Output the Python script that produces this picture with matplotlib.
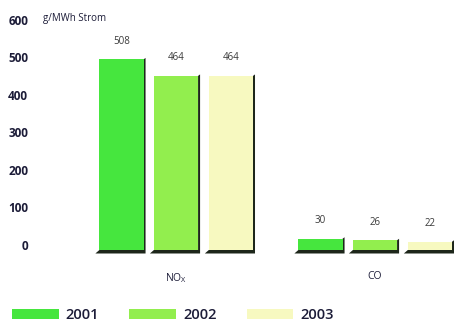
import matplotlib.pyplot as plt
import matplotlib.transforms as mtransforms
import numpy as np

# Emissionen je MWh Strom
stoffe = ["NO$_\\mathregular{X}$", "CO"]
jahre = ["2001", "2002", "2003"]
werte_2001 = [508, 30]
werte_2002 = [464, 26]
werte_2003 = [464, 22]
y_ticks = [0, 100, 200, 300, 400, 500, 600]

farben = ["#46e63e", "#92ee4e", "#f7f9c0"]
schatten = "#1d261a"
text_dunkel = "#1c1c38"

plt.rcParams["font.family"] = ["Open Sans", "DejaVu Sans"]

W, H = 454, 336
fig = plt.figure(figsize=(W / 100, H / 100), dpi=100)
ax = fig.add_axes([35 / W, 1 - 257.5 / H, (W - 35) / W, (257.5 - 16.25) / H])
ax.set_xlim(-0.7085, 1.397)
ax.set_ylim(-20, 623)

# Pixelgrößen in Datenkoordinaten (für die Schattenkanten)
px_x = 1 / 199
px_y = 1 / 0.375

x = np.arange(len(stoffe))
breite = 0.222
versatz = [-0.274, 0.0, 0.276]

for werte, jahr, farbe, dx in zip([werte_2001, werte_2002, werte_2003], jahre, farben, versatz):
    pos = x + dx
    for xc, v in zip(pos, werte):
        x0 = xc - breite / 2
        x1 = xc + breite / 2
        ax.fill(
            [x0 - 4 * px_x, x1 + 2 * px_x, x1 + 2 * px_x, x1, x1, x0],
            [-3.5 * px_y, -3.5 * px_y, v + 1.5 * px_y, v, 0, 0],
            color=schatten, lw=0, zorder=2,
        )
    balken = ax.bar(pos, werte, breite, color=farbe, label=jahr, zorder=3)
    for b, v in zip(balken, werte):
        ax.annotate(str(v), (b.get_x() + b.get_width() / 2, v),
                    xytext=(0, 9), textcoords="offset points",
                    ha="center", va="bottom", fontsize=7, color="#3a3a3a")

for s in ax.spines.values():
    s.set_visible(False)
ax.set_yticks(y_ticks)
ax.set_xticks(x)
ax.set_xticklabels(stoffe, fontsize=7.5, color=text_dunkel)
ax.tick_params(axis="x", length=0, pad=10)
ax.tick_params(axis="y", length=0, pad=5, labelsize=8.5, labelcolor=text_dunkel)
for lab in ax.get_yticklabels():
    lab.set_fontweight("bold")
    lab.set_transform(lab.get_transform()
                      + mtransforms.ScaledTranslation(0, 5 / 100, fig.dpi_scale_trans))

fig.text(43 / W, 1 - 18 / H, "g/MWh Strom", fontsize=7, color=text_dunkel,
         va="center", ha="left")

leg = fig.legend(loc="center left", bbox_to_anchor=(6 / W, 1 - 315 / H), ncol=3,
                 frameon=False, fontsize=10.5, handlelength=3.2, handleheight=0.68,
                 handletextpad=0.5, columnspacing=2.05, borderaxespad=0)
for t in leg.get_texts():
    t.set_fontweight("semibold")
    t.set_color(text_dunkel)

fig.savefig("out.png", dpi=100)
